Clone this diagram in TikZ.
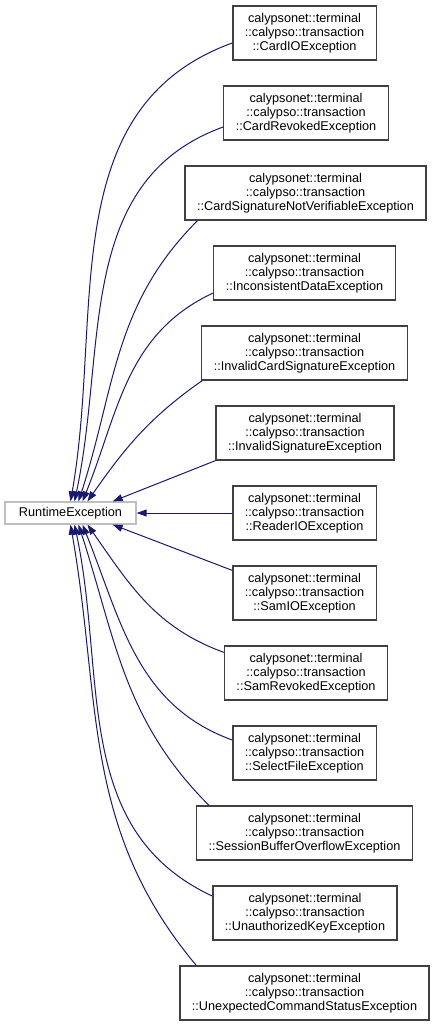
\documentclass[tikz,border=0pt]{standalone}
\usepackage{fontspec}
\setmainfont{Liberation Sans}
\usetikzlibrary{arrows.meta}
\definecolor{edgeblue}{HTML}{191970}
\definecolor{boxgray}{HTML}{BFBFBF}
\definecolor{boxdark}{HTML}{404040}

\begin{document}
\begin{tikzpicture}[x=1pt, y=-1pt,
        every node/.style={font=\fontsize{12.7}{14}\selectfont, align=center},
        cls/.style={draw=boxdark, line width=1.3pt, fill=white, minimum height=54pt, inner xsep=12pt},
        base/.style={draw=boxgray, line width=1.3pt, minimum width=131pt, minimum height=22pt},
        inherit/.style={draw=edgeblue, line width=1pt, {Triangle[length=10pt, width=7pt]}-}]
            \useasboundingbox (0, 0) rectangle (436, 1027);
            % Nodes:
                \node[base](re) at (70.5, 513){RuntimeException};
                \node[cls](cardio) at (304.5, 33){calypsonet::terminal\\::calypso::transaction\\::CardIOException};
                \node[cls](cardrev) at (306, 113){calypsonet::terminal\\::calypso::transaction\\::CardRevokedException};
                \node[cls](cardsig) at (305.5, 193){calypsonet::terminal\\::calypso::transaction\\::CardSignatureNotVerifiableException};
                \node[cls](incons) at (304.5, 273){calypsonet::terminal\\::calypso::transaction\\::InconsistentDataException};
                \node[cls](invcard) at (304.5, 353){calypsonet::terminal\\::calypso::transaction\\::InvalidCardSignatureException};
                \node[cls](invsig) at (305, 433){calypsonet::terminal\\::calypso::transaction\\::InvalidSignatureException};
                \node[cls](readerio) at (304.5, 513){calypsonet::terminal\\::calypso::transaction\\::ReaderIOException};
                \node[cls](samio) at (304.5, 593){calypsonet::terminal\\::calypso::transaction\\::SamIOException};
                \node[cls](samrev) at (306, 673){calypsonet::terminal\\::calypso::transaction\\::SamRevokedException};
                \node[cls](selfile) at (304.5, 753){calypsonet::terminal\\::calypso::transaction\\::SelectFileException};
                \node[cls](sessbuf) at (304.5, 833){calypsonet::terminal\\::calypso::transaction\\::SessionBufferOverflowException};
                \node[cls](unauth) at (305, 913){calypsonet::terminal\\::calypso::transaction\\::UnauthorizedKeyException};
                \node[cls](unexp) at (304.5, 993){calypsonet::terminal\\::calypso::transaction\\::UnexpectedCommandStatusException};
            % Inheritance edges:
                \draw[inherit] (re.north) to[out=80, in=200] ([yshift=-10pt]cardio.west);
                \draw[inherit] ([xshift=4pt]re.north) to[out=78, in=200] ([yshift=-14pt]cardrev.west);
                \draw[inherit] ([xshift=8pt]re.north) to[out=72, in=225] ([xshift=13pt]cardsig.south west);
                \draw[inherit] ([xshift=12pt]re.north) to[out=68, in=205] ([yshift=-20pt]incons.west);
                \draw[inherit] ([xshift=17pt]re.north) to[out=55, in=215] ([xshift=1pt]invcard.south west);
                \draw[inherit] ([xshift=-24pt]re.north east) -- (invsig.south west);
                \draw[inherit] (re.east) -- (readerio.west);
                \draw[inherit] ([xshift=-24pt]re.south east) -- ([yshift=-5pt]samio.north west);
                \draw[inherit] ([xshift=17pt]re.south) to[out=-55, in=160] ([yshift=-7pt]samrev.north west);
                \draw[inherit] ([xshift=12pt]re.south) to[out=-68, in=160] ([yshift=13pt]selfile.west);
                \draw[inherit] ([xshift=8pt]re.south) to[out=-72, in=135] ([xshift=13pt]sessbuf.north west);
                \draw[inherit] ([xshift=4pt]re.south) to[out=-78, in=155] ([yshift=17pt]unauth.west);
                \draw[inherit] (re.south) to[out=-80, in=130] ([xshift=17pt]unexp.north west);
\end{tikzpicture}
\end{document}
